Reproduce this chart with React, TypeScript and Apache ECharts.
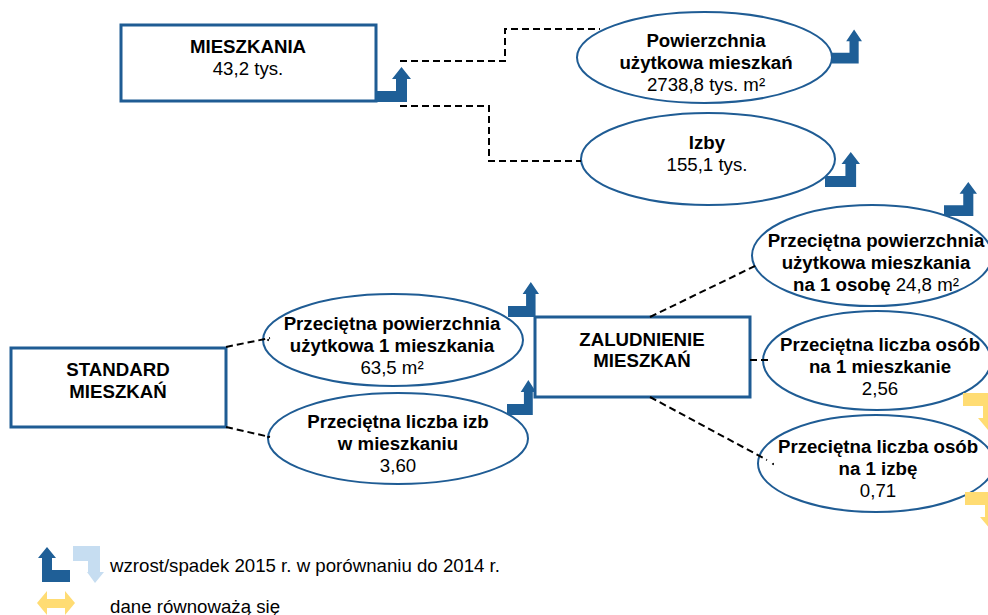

import React, { useEffect, useRef } from "react";
import * as echarts from "echarts";

const FONT = "Liberation Sans";
const BLUE = "#1F5C94";
const DARK = "#1F5F97";
const PALE = "#C6DDF1";
const YELLOW = "#FFDC73";

// content
const boxTitles = [["MIESZKANIA"], ["STANDARD", "MIESZKAŃ"], ["ZALUDNIENIE", "MIESZKAŃ"]];
const boxValues = ["43,2 tys.", "", ""];
const ovalTitles = [
  ["Powierzchnia", "użytkowa mieszkań"],
  ["Izby"],
  ["Przeciętna powierzchnia", "użytkowa 1 mieszkania"],
  ["Przeciętna liczba izb", "w mieszkaniu"],
  ["Przeciętna powierzchnia", "użytkowa mieszkania", "na 1 osobę"],
  ["Przeciętna liczba osób", "na 1 mieszkanie"],
  ["Przeciętna liczba osób", "na 1 izbę"],
];
const ovalValues = ["2738,8 tys. m²", "155,1 tys.", "63,5 m²", "3,60", "24,8 m²", "2,56", "0,71"];
const legendLabels = ["wzrost/spadek 2015 r. w porównaniu do 2014 r.", "dane równoważą się"];

// layout
const boxGeom = [[121, 25, 255, 76], [11, 348, 215, 79], [535, 317, 215, 80]];
const boxText = [[248, 57.5], [118, 380.5], [642, 350]];
const ovalGeom = [[704.5, 57.5, 127.5, 45.5], [708, 159, 127, 46], [393, 340, 130, 46], [398, 438.5, 130, 45.5], [872, 255.5, 120, 50.5], [877, 360.5, 114, 49.5], [876, 463.5, 118, 48.5]];
const ovalText = [[706, 62], [707, 153], [392, 345], [398, 443], [876, 262], [880, 366], [878, 468]];
const inlineLast = [false, false, false, false, true, false, false];
const dashed = [
  [[400, 61], [505, 61], [505, 29], [600, 29]],
  [[400, 106], [489, 106], [489, 161], [581, 161]],
  [[226, 347], [270, 338]],
  [[226, 427], [270, 437]],
  [[650, 317], [757, 265]],
  [[750, 360], [771, 360]],
  [[650, 397], [767, 460]],
];
const dots = [[268, 340], [268, 437], [773, 464]];
const upArrows = [[375, 102, 36, 35], [832, 63.5, 30, 34], [825, 187, 35, 35], [944, 216, 33, 34], [508, 317, 31, 35], [507, 415, 29, 35]];
const downYellow = [[963, 393], [965, 492]];
const upShape = [[0, 0], [0, -11], [21, -11], [21, -23], [17, -23], [26.5, -35], [36, -23], [32, -23], [32, 0]];
const downYellowShape = [[0, 0], [30, 0], [30, 25], [35, 25], [25, 37], [15, 25], [20, 25], [20, 13], [0, 13]];
const legendUp = [[70, 582], [70, 570], [52, 570], [52, 558], [56, 558], [47, 547], [38, 558], [42, 558], [42, 582]];
const legendDown = [[73, 546], [100, 546], [100, 572], [104, 572], [95, 583], [87, 572], [88, 572], [88, 561], [73, 561]];
const legendBoth = [[37, 603], [47, 591], [47, 599], [65, 599], [65, 591], [75, 603], [65, 615], [65, 608], [47, 608], [47, 615]];

const FS = 18.67;
function richStyles(lineHeight: number) {
  return {
    b: { fontFamily: FONT, fontSize: FS, fontWeight: "bold", fill: "#000", lineHeight },
    n: { fontFamily: FONT, fontSize: FS, fill: "#000", lineHeight },
  };
}

function label(titles: string[], value: string, inline: boolean) {
  const lines = titles.map((t) => `{b|${t}}`);
  const v = value ? `{n|${value}}` : "";
  if (inline) lines[lines.length - 1] += `{n| }${v}`;
  else if (v) lines.push(v);
  return lines.join("\n");
}

function textEl(x: number, y: number, text: string, lineHeight: number) {
  return {
    type: "text", x, y, z: 10,
    style: { text, rich: richStyles(lineHeight), align: "center", verticalAlign: "middle", fontFamily: FONT, fontSize: FS },
  };
}

function poly(points: number[][], fill: string, ox = 0, oy = 0, sx = 1, sy = 1, z = 5) {
  return { type: "polygon", z, shape: { points: points.map(([x, y]) => [x * sx + ox, y * sy + oy]) }, style: { fill } };
}

function buildGraphics() {
  const els: any[] = [];
  ovalGeom.forEach(([cx, cy, rx, ry], i) => {
    els.push({ type: "ellipse", z: 2, shape: { cx, cy, rx, ry }, style: { fill: "transparent", stroke: BLUE, lineWidth: 2 } });
    els.push(textEl(ovalText[i][0], ovalText[i][1], label(ovalTitles[i], ovalValues[i], inlineLast[i]), 22));
  });
  boxGeom.forEach(([x, y, width, height], i) => {
    els.push({ type: "rect", z: 3, shape: { x, y, width, height }, style: { fill: "transparent", stroke: BLUE, lineWidth: 3 } });
    els.push(textEl(boxText[i][0], boxText[i][1], label(boxTitles[i], boxValues[i], false), 21.5));
  });
  dashed.forEach((points) => {
    els.push({ type: "polyline", z: 4, shape: { points }, style: { fill: "none", stroke: "#000", lineWidth: 2, lineDash: [7, 4] } });
  });
  dots.forEach(([cx, cy]) => els.push({ type: "circle", z: 4, shape: { cx, cy, r: 1 }, style: { fill: "#000" } }));
  upArrows.forEach(([x, y, w, h]) => els.push(poly(upShape, DARK, x, y, w / 36, h / 35)));
  downYellow.forEach(([x, y]) => els.push(poly(downYellowShape, YELLOW, x, y)));
  els.push(poly(legendUp, DARK), poly(legendDown, PALE), poly(legendBoth, YELLOW));
  legendLabels.forEach((t, i) => {
    els.push({
      type: "text", x: 110, y: i === 0 ? 565 : 606, z: 10,
      style: { text: t, fontFamily: FONT, fontSize: FS, fill: "#000", align: "left", verticalAlign: "middle" },
    });
  });
  return els;
}

export default function App() {
  const ref = useRef<HTMLDivElement>(null);
  useEffect(() => {
    document.body.style.margin = "0";
    const chart = echarts.init(ref.current!, null, { renderer: "svg" });
    chart.setOption({ animation: false, backgroundColor: "#fff", graphic: { elements: buildGraphics() } });
    return () => chart.dispose();
  }, []);
  return <div ref={ref} style={{ width: 988, height: 615, overflow: "hidden" }} />;
}
